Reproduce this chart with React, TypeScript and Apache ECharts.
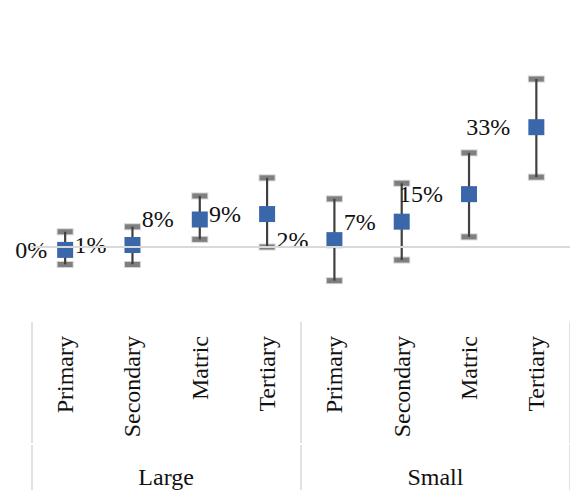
import React, { useEffect, useRef } from "react";
import * as echarts from "echarts";

const categories = ["Primary", "Secondary", "Matric", "Tertiary", "Primary", "Secondary", "Matric", "Tertiary"];
const groups = ["Large", "Small"];
const values = [-0.8, 0.55, 7.6, 9.1, 1.9, 7.0, 14.6, 33.1];
const lowValues = [-4.8, -4.8, 2.1, 0.0, -9.3, -3.6, 2.8, 19.3];
const highValues = [4.2, 5.6, 14.1, 19.1, 13.3, 17.6, 26.0, 46.4];
const labels = ["0%", "1%", "8%", "9%", "2%", "7%", "15%", "33%"];

const FONT = "'Liberation Serif', 'Times New Roman', serif";
const TEXT = "#111111";

export default function App() {
  const ref = useRef<HTMLDivElement>(null);
  useEffect(() => {
    if (!ref.current) return;
    const chart = echarts.init(ref.current, undefined, { renderer: "svg" });
    const gridTop = 66;
    const gridHeight = 217.2;
    const gridBottomY = gridTop + gridHeight;
    chart.setOption({
      animation: false,
      textStyle: { fontFamily: FONT },
      grid: { left: 31.5, top: gridTop, width: 540.8, height: gridHeight },
      xAxis: [
        {
          type: "category",
          data: categories,
          position: "bottom",
          offset: 322 - gridBottomY,
          boundaryGap: true,
          axisLine: { show: false, onZero: false },
          axisTick: {
            show: true,
            length: 121,
            interval: (index: number) => index % 4 === 0,
            lineStyle: { color: "#d9d9d9", width: 1.5 },
          },
          axisLabel: {
            rotate: 90,
            margin: 14,
            interval: 0,
            fontFamily: FONT,
            fontSize: 24,
            color: TEXT,
          },
        },
        {
          type: "category",
          data: groups,
          position: "bottom",
          offset: 445 - gridBottomY,
          boundaryGap: true,
          axisLine: { show: false, onZero: false },
          axisTick: { show: true, length: 45, lineStyle: { color: "#d9d9d9", width: 1.5 } },
          axisLabel: { margin: 20, fontFamily: FONT, fontSize: 24, color: TEXT },
        },
      ],
      yAxis: {
        type: "value",
        min: -10,
        max: 50,
        show: false,
        splitLine: { show: false },
      },
      series: [
        {
          type: "custom",
          z: 2,
          xAxisIndex: 0,
          encode: { x: 0, y: [1, 2] },
          data: categories.map((_, i) => [i, lowValues[i], highValues[i]]),
          renderItem: (params: any, api: any) => {
            const idx = api.value(0);
            const top = api.coord([idx, api.value(2)]);
            const bot = api.coord([idx, api.value(1)]);
            const hw = 7.5;
            const hh = 2.5;
            const cap = (y: number) => [
              {
                type: "rect",
                shape: { x: top[0] - hw - 1, y: y - hh - 1, width: 2 * hw + 2, height: 2 * hh + 2 },
                style: { fill: "rgba(128,128,128,0.35)" },
              },
              {
                type: "rect",
                shape: { x: top[0] - hw, y: y - hh, width: 2 * hw, height: 2 * hh },
                style: { fill: "#7f7f7f" },
              },
            ];
            return {
              type: "group",
              children: [
                ...cap(top[1]),
                ...cap(bot[1]),
                {
                  type: "line",
                  shape: { x1: top[0], y1: top[1], x2: bot[0], y2: bot[1] },
                  style: { stroke: "#404040", lineWidth: 2.2 },
                },
              ],
            };
          },
          markLine: {
            silent: true,
            symbol: "none",
            label: { show: false },
            lineStyle: { color: "#d9d9d9", width: 2, type: "solid" },
            data: [{ yAxis: 0 }],
          },
        },
        {
          type: "scatter",
          z: 3,
          xAxisIndex: 0,
          symbol: "rect",
          symbolSize: 16,
          itemStyle: { color: "#3a67a9", opacity: 1 },
          data: values.map((v, i) => ({
            value: [i, v],
            label: {
              show: true,
              position: "left",
              distance: i === 0 ? 10 : 18,
              formatter: labels[i],
              fontFamily: FONT,
              fontSize: 24,
              color: TEXT,
            },
          })),
        },
      ],
    });
    return () => chart.dispose();
  }, []);
  return (
    <div
      ref={ref}
      style={{ position: "fixed", left: 0, top: 0, width: 570, height: 490, background: "#fff" }}
    />
  );
}
